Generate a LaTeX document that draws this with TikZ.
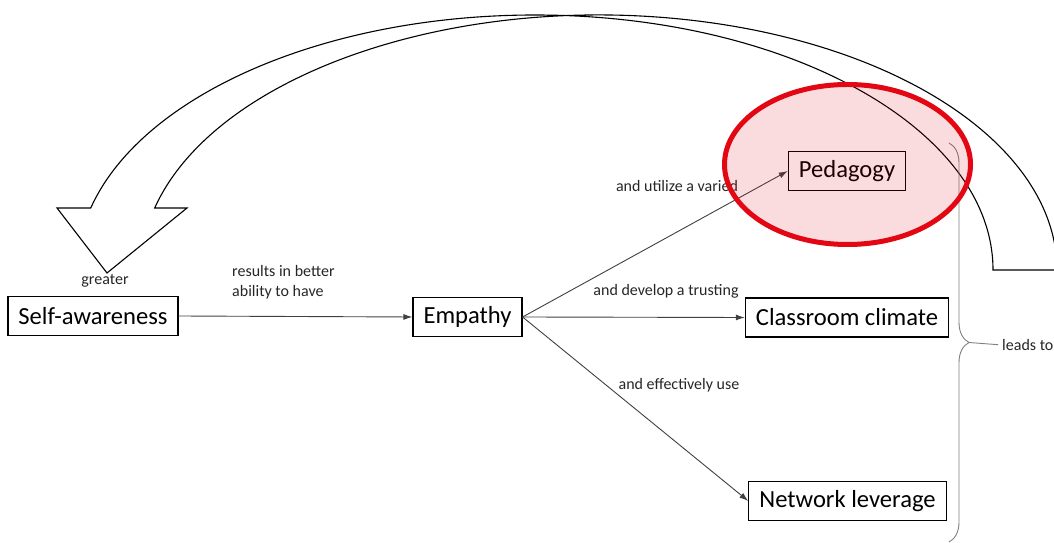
\documentclass[tikz,border=0pt]{standalone}
\usepackage{fontspec}
\setmainfont{Carlito}
\usepackage{tikz}
\usetikzlibrary{positioning,calc,arrows.meta,decorations.pathreplacing}
\definecolor{ringred}{HTML}{E30613}
\definecolor{linkgrey}{HTML}{404040}

\begin{document}
\begin{tikzpicture}[x=1pt,y=1pt,
    box/.style={draw=black,line width=1.2pt,minimum height=39pt,inner xsep=10.5pt,font=\fontsize{24.6}{28}\selectfont},
    lbl/.style={font=\fontsize{16}{20}\selectfont,text=black!85,align=left,inner sep=0pt},
    link/.style={draw=linkgrey,line width=0.9pt,-{Latex[length=9pt,width=6pt]}}]

        \useasboundingbox (0,0) rectangle (1054,543);
        \clip (0,0) rectangle (1054,543);

        % big curved arrow back to self-awareness
        \draw[line width=1.1pt] (993,273) arc[start angle=0,end angle=165.93,x radius=458,y radius=255]
            -- (57,335) -- (107,270) -- (187,335) -- (154.7,335)
            arc[start angle=165.93,end angle=0,x radius=458,y radius=255] -- cycle;

        \node[box] (self) at (93,227) {Self-awareness};
        \node[box] (emp) at (467.5,226) {Empathy};
        \node[box] (ped) at (847,372) {Pedagogy};
        \node[box] (clim) at (847,225.5) {Classroom climate};
        \node[box] (net) at (847.5,42) {Network leverage};

        \node[lbl] (greater) at (105,262) {greater};
        \node[lbl,anchor=west] (better) at (232,261) {results in better\\ability to have};
        \node[lbl] (varied) at (677,357) {and utilize a varied};
        \node[lbl] (trust) at (666,252) {and develop a trusting};
        \node[lbl] (use) at (679,158) {and effectively use};

        \draw[link] (self.east) -- (emp.west);
        \draw[link] (emp.east) -- (ped.west);
        \draw[link] (emp.east) -- (clim.west);
        \draw[link] (emp.east) -- (net.west);

        % brace on the right
        \draw[gray,line width=0.9pt,decorate,decoration={brace,amplitude=20pt}] (949,400) -- (949,1);
        \coordinate (tip) at (969,200.5);
        \node[lbl,anchor=west] (leads) at (1002,198) {leads to};
        \draw[gray,line width=0.9pt,shorten >=4pt] (tip) -- (leads.west);

        % highlight
        \draw[ringred,line width=5pt,fill=ringred,fill opacity=0.14] (847.5,378.5) ellipse[x radius=123,y radius=80];
    \end{tikzpicture}
\end{document}
